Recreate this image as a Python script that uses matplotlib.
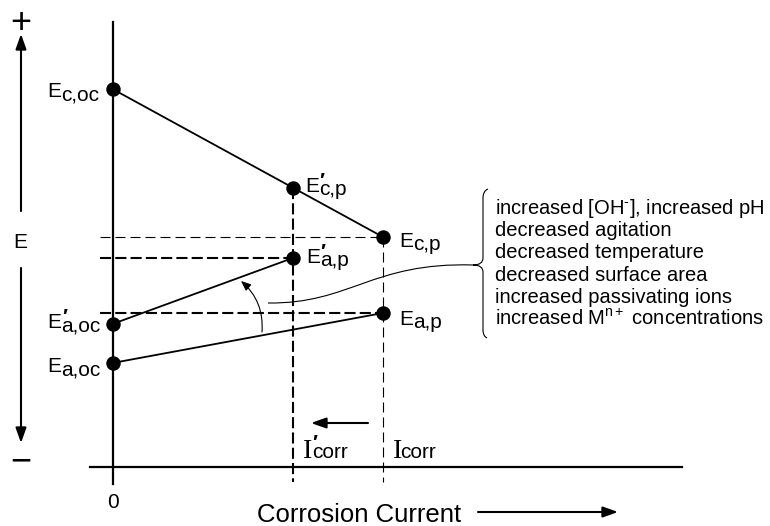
import matplotlib
matplotlib.use('Agg')
import matplotlib.pyplot as plt
from matplotlib.path import Path
from matplotlib.patches import PathPatch

plt.rcParams['font.family'] = ['Liberation Sans', 'DejaVu Sans']
plt.rcParams['mathtext.fontset'] = 'custom'
plt.rcParams['mathtext.rm'] = 'Liberation Sans'
plt.rcParams['mathtext.it'] = 'Liberation Sans:italic'
plt.rcParams['mathtext.bf'] = 'Liberation Sans:bold'
plt.rcParams['lines.scale_dashes'] = False

# corrosion currents (arbitrary units)
i_corr = 3.0
i_corr_new = 2.0

# potentials (arbitrary units, 0 = current axis)
e_c_oc = 3.78
e_c_p = 2.30
e_c_p_new = 2.79
e_a_oc = 1.04
e_a_p = 1.54
e_a_oc_new = 1.43
e_a_p_new = 2.09

effects = [
    r'increased [OH$^{\text{-}}$], increased pH',
    'decreased agitation',
    'decreased temperature',
    'decreased surface area',
    'increased passivating ions',
    r'increased M$^{\mathrm{n+}}$ concentrations',
]

W, H = 770, 526
fig = plt.figure(figsize=(W / 100, H / 100), dpi=100)

# pixel overlay for the sketch decorations
deco = fig.add_axes([0, 0, 1, 1])
deco.set_xlim(0, W)
deco.set_ylim(H, 0)
deco.axis('off')

# data axes, origin sits at pixel (112.5, 467)
ax = fig.add_axes([0, 0, 1, 1])
x0, y0, sx, sy = 112.5, 467, 90.17, 100.0
ax.set_xlim(-x0 / sx, (W - x0) / sx)
ax.set_ylim((y0 - H) / sy, y0 / sy)
ax.axis('off')

# axes of the diagram
ax.plot([0, 0], [-0.17, 4.45], color='black', lw=1.6)
ax.plot([-0.25, 6.32], [0, 0], color='black', lw=1.6)

# polarization lines
ax.plot([0, i_corr], [e_c_oc, e_c_p], color='black', lw=1.3)
ax.plot([0, i_corr], [e_a_oc, e_a_p], color='black', lw=1.3)
ax.plot([0, i_corr_new], [e_a_oc_new, e_a_p_new], color='black', lw=1.3)

# dashed guides
thin = (0, (7.2, 3.6))
thick = (0, (8.0, 3.0))
ax.plot([-0.14, i_corr], [e_c_p, e_c_p], color='black', lw=0.8, ls=thin)
ax.plot([-0.14, i_corr_new], [e_a_p_new, e_a_p_new], color='black', lw=1.5, ls=thick)
ax.plot([-0.14, i_corr], [e_a_p, e_a_p], color='black', lw=1.5, ls=thick)
ax.plot([i_corr_new, i_corr_new], [e_c_p_new, -0.15], color='black', lw=1.5, ls=thick)
ax.plot([i_corr, i_corr], [e_c_p, -0.15], color='black', lw=0.8, ls=thin)

px = [0, i_corr_new, i_corr, i_corr_new, 0, i_corr, 0]
py = [e_c_oc, e_c_p_new, e_c_p, e_a_p_new, e_a_oc_new, e_a_p, e_a_oc]
ax.plot(px, py, 'o', color='black', ms=9.4)


def elabel(x, y, sub, dx, dy, prime=False):
    kw = dict(xy=(x, y), textcoords='offset pixels', fontsize=15, va='baseline', ha='left')
    ax.annotate('E', xytext=(dx, -dy), **kw)
    ax.annotate(sub, xytext=(dx + 14, -dy - 3.5), **kw)
    if prime:
        ax.annotate('\u2032', xytext=(dx + 14.5, -dy + 5), fontweight='bold', **kw)


elabel(0, e_c_oc, 'c,oc', -65, 8)
elabel(i_corr_new, e_c_p_new, 'c,p', 12, 4, prime=True)
elabel(i_corr, e_c_p, 'c,p', 16, 10)
elabel(i_corr_new, e_a_p_new, 'a,p', 13, 5, prime=True)
elabel(i_corr, e_a_p, 'a,p', 16, 12)
elabel(0, e_a_oc_new, 'a,oc', -65, 4, prime=True)
elabel(0, e_a_oc, 'a,oc', -65, 9)


def ilabel(x, dsub, prime=False):
    kw = dict(xy=(x, 0), textcoords='offset pixels', va='baseline', ha='left')
    ax.annotate('I', xytext=(10, 9), fontsize=20, family='Liberation Serif', **kw)
    ax.annotate('corr', xytext=(dsub, 9), fontsize=15, **kw)
    if prime:
        ax.annotate('\u2032', xytext=(dsub, 18), fontsize=15, fontweight='bold', **kw)


ilabel(i_corr_new, 19, prime=True)
ilabel(i_corr, 17)

# decorations in pixel space
arr = dict(arrowstyle='-|>,head_length=0.9,head_width=0.32', color='black',
           lw=1.5, shrinkA=0, shrinkB=0, mutation_scale=10)
deco.annotate('', xy=(311, 423), xytext=(368, 423), arrowprops=arr)
deco.annotate('', xy=(618, 512), xytext=(478, 512), arrowprops=arr)
deco.annotate('', xy=(21, 34), xytext=(21, 211), arrowprops=arr)
deco.annotate('', xy=(21, 443), xytext=(21, 268), arrowprops=arr)

deco.annotate('', xy=(241, 281), xytext=(262, 332),
              arrowprops=dict(arrowstyle='-|>,head_length=0.6,head_width=0.25', color='black',
                              lw=0.8, shrinkA=0, shrinkB=0, mutation_scale=10,
                              connectionstyle='arc3,rad=0.25'))

s_curve = Path([(268, 303), (350, 304), (372, 262), (473, 265)],
               [Path.MOVETO, Path.CURVE4, Path.CURVE4, Path.CURVE4])
deco.add_patch(PathPatch(s_curve, fill=False, lw=0.8, color='black'))

brace = Path([(488, 189), (483, 191), (483, 198),
              (483, 258),
              (483, 265), (473, 265),
              (483, 265), (483, 272),
              (483, 330),
              (483, 336), (487, 338)],
             [Path.MOVETO, Path.CURVE3, Path.CURVE3,
              Path.LINETO,
              Path.CURVE3, Path.CURVE3,
              Path.CURVE3, Path.CURVE3,
              Path.LINETO,
              Path.CURVE3, Path.CURVE3])
deco.add_patch(PathPatch(brace, fill=False, lw=0.8, color='black'))

for k, line in enumerate(effects):
    deco.text(495, 214 + 22.2 * k, line, fontsize=14.5, va='baseline', ha='left')

deco.text(21, 33, '+', fontsize=26, ha='center', va='baseline')
deco.text(21, 471, '\u2212', fontsize=26, ha='center', va='baseline')
deco.text(20, 248, 'E', fontsize=15, ha='center', va='baseline')
deco.text(112.5, 508, '0', fontsize=15, ha='center', va='baseline')
deco.text(257, 522, 'Corrosion Current', fontsize=18.5, ha='left', va='baseline')

fig.savefig('out.png', dpi=100)
